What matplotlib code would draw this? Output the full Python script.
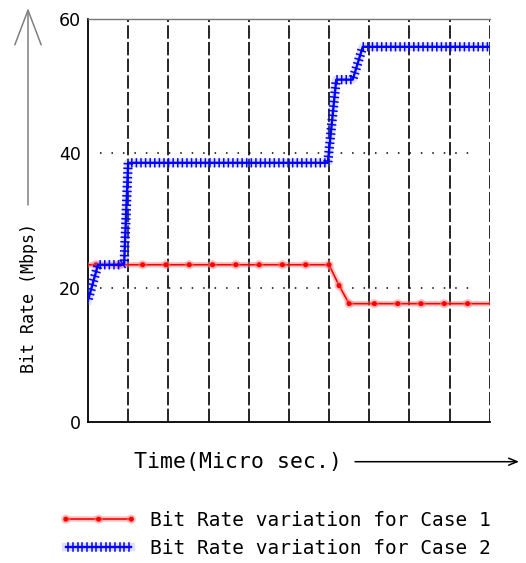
import numpy as np
import matplotlib
matplotlib.use("Agg")
import matplotlib.pyplot as plt
from matplotlib import patheffects as pe

# ---- data ----
case1_x = [0, 0.2, 0.78, 1.36, 1.94, 2.52, 3.1, 3.68, 4.26, 4.84, 5.42, 6.0, 6.25, 6.5,
           7.13, 7.71, 8.29, 8.87, 9.45, 10]
case1_y = [23.4, 23.4, 23.4, 23.4, 23.4, 23.4, 23.4, 23.4, 23.4, 23.4, 23.4, 23.4, 20.3, 17.6,
           17.6, 17.6, 17.6, 17.6, 17.6, 17.6]

case2_x = [0, 0.25, 0.85, 0.9, 1.0, 5.97, 6.18, 6.59, 6.84, 10]
case2_y = [18.1, 23.4, 23.4, 23.6, 38.6, 38.6, 51.0, 51.0, 55.9, 55.9]

y_ticks = [0, 20, 40, 60]
y_dotted = [20, 40]
x_grid = [1, 2, 3, 4, 5, 6, 7, 8, 9, 10]

label_case1 = "Bit Rate variation for Case 1"
label_case2 = "Bit Rate variation for Case 2"
x_label = "Time(Micro sec.)"
y_label = "Bit Rate (Mbps)"

W, H = 526, 563
fig = plt.figure(figsize=(W / 100, H / 100), dpi=100)
ax = fig.add_axes([88 / W, 1 - 421.7 / H, (489.7 - 88) / W, (421.7 - 19.3) / H])

ax.set_xlim(0, 10)
ax.set_ylim(0, 60)

# vertical dashed grid
ax.set_xticks(x_grid)
ax.tick_params(axis="x", length=0, labelbottom=False)
ax.grid(axis="x", color="black", linestyle=(0, (8, 2)), linewidth=1.2)
# horizontal dotted lines
ax.hlines(y_dotted, 0.3, 9.7, colors="black", linestyles=(0, (1, 6.5)), linewidth=1.1, zorder=1)

ax.set_yticks(y_ticks)
ax.set_yticklabels([str(v) for v in y_ticks], fontsize=12.5, family="DejaVu Sans")
ax.tick_params(axis="y", length=0, pad=5)

for s in ["left", "bottom"]:
    ax.spines[s].set_linewidth(1.3)
    ax.spines[s].set_color("black")
ax.spines["top"].set_color("#777777")
ax.spines["top"].set_linewidth(1.0)
ax.spines["right"].set_visible(False)

# Case 1 (red, dots)
ax.plot(case1_x, case1_y, color="#ff0000", linewidth=1.2, marker="o", markersize=2.6,
        markevery=list(range(1, len(case1_x) - 1)), zorder=4, label=label_case1,
        path_effects=[pe.Stroke(linewidth=4, foreground="#ff8080", alpha=0.45), pe.Normal()])

# Case 2 (blue, dense cross ticks)
tick_fx = [
    pe.Stroke(linewidth=6, foreground="#8080ff", alpha=0.25),
    pe.TickedStroke(spacing=3.3, angle=90, length=0.85, linewidth=1.1, foreground="#0000ff"),
    pe.TickedStroke(spacing=3.3, angle=-90, length=0.85, linewidth=1.1, foreground="#0000ff"),
    pe.Normal(),
]
ax.plot(case2_x, case2_y, color="#0000ff", linewidth=1.7, zorder=5, label=label_case2,
        path_effects=tick_fx)

# axis labels with arrows
fig.text(29 / W, 1 - 298 / H, y_label, rotation=90, ha="center", va="center",
         fontsize=12, family="DejaVu Sans Mono")
fig.text(134 / W, 1 - 461.7 / H, x_label, ha="left", va="center",
         fontsize=15.5, family="DejaVu Sans Mono")

ax.annotate("", xy=(28 / W, 1 - 8 / H), xytext=(28 / W, 1 - 205 / H),
            xycoords="figure fraction", textcoords="figure fraction",
            arrowprops=dict(arrowstyle="->,head_length=2.5,head_width=0.95",
                            color="#808080", lw=1.1, shrinkA=0, shrinkB=0),
            annotation_clip=False)
ax.annotate("", xy=(519 / W, 1 - 461.7 / H), xytext=(355 / W, 1 - 461.7 / H),
            xycoords="figure fraction", textcoords="figure fraction",
            arrowprops=dict(arrowstyle="->,head_length=0.6,head_width=0.25",
                            color="black", lw=1.1, shrinkA=0, shrinkB=0),
            annotation_clip=False)

fig.legend(loc="upper left", bbox_to_anchor=(60 / W, 1 - 511 / H), frameon=False,
           prop={"family": "DejaVu Sans Mono", "size": 14}, handlelength=3.97,
           handletextpad=0.67, labelspacing=0.44, borderpad=0, borderaxespad=0,
           numpoints=3)

fig.savefig("out.png", dpi=100)
